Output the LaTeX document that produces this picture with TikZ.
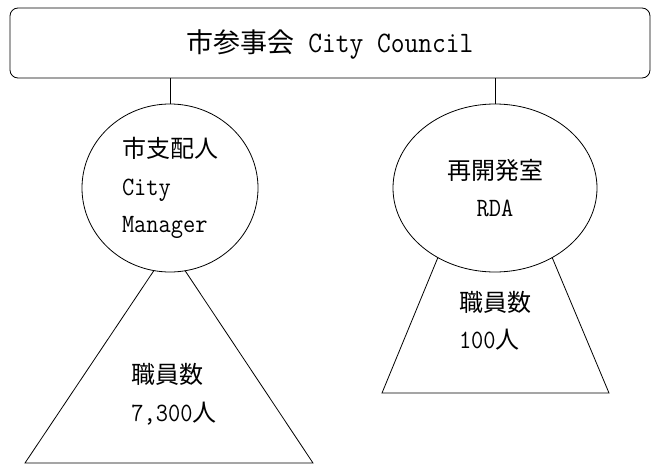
\documentclass[tikz,border=0pt]{standalone}
\usepackage{fontspec}
\newfontfamily\cjk{Noto Sans CJK JP}
\setmonofont{Latin Modern Mono}[Scale=1.1, FakeStretch=0.9]
\usetikzlibrary{shapes.geometric}
\tikzset{
  outline/.style={draw=black, line width=0.8pt},
  orgbox/.style={outline, rounded corners=8pt, minimum width=640pt, minimum height=70pt, inner sep=0pt},
  unit/.style={outline, ellipse, fill=white, inner sep=0pt, align=left},
  label/.style={align=left, inner sep=0pt},
  txt/.style={font=\fontsize{24}{37.5}\selectfont},
  bigtxt/.style={font=\fontsize{27}{37.5}\selectfont}
}
\begin{document}
\begin{tikzpicture}[x=1pt,y=-1pt, every node/.style={txt}]
\useasboundingbox (0,0) rectangle (651,466);
% staff shapes (drawn first, covered by the ellipses)
\draw[outline] (165,254) -- (25,463) -- (313,463) -- (174,254);
\draw[outline] (441,250) -- (382,393) -- (609,393) -- (549,250);
\node (council) [orgbox, bigtxt, text depth=4pt] at (330,43) {{\cjk 市参事会}\texttt{ City Council}};
\node (manager) [unit, minimum width=176pt, minimum height=168pt] at (170,188)
  {{\cjk 市支配人}\\\texttt{City}\\\texttt{Manager}};
\node (rda) [unit, align=center, minimum width=204pt, minimum height=168pt] at (495,188)
  {{\cjk 再開発室}\\\texttt{RDA}};
\node (staffA) [label] at (174,394) {{\cjk 職員数}\\\texttt{7,300}{\cjk 人}};
\node (staffB) [label] at (495,321) {{\cjk 職員数}\\\texttt{100}{\cjk 人}};
\draw[outline] (council.south -| manager.north) -- (manager.north);
\draw[outline] (council.south -| rda.north) -- (rda.north);
\end{tikzpicture}
\end{document}
